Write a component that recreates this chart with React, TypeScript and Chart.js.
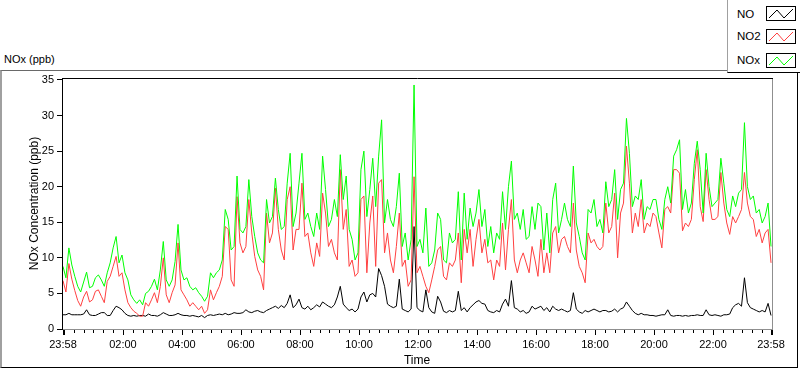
import React, { useEffect, useRef } from 'react';
import { Chart, registerables } from 'chart.js';

Chart.register(...registerables);

// Sampling step of the series (minutes from the 23:58 start)
const STEP_MINUTES = 6;

// NOx (ppb) — one value every 6 minutes, one row per hour
const NOx: number[] = [
  8.8, 7.2, 11.4, 9.0, 7.4, 6.0, 5.2, 6.6, 8.0, 5.8,
  6.0, 7.2, 7.6, 6.9, 6.0, 7.9, 9.3, 11.4, 13.0, 9.3,
  10.4, 7.9, 6.9, 4.8, 4.1, 3.6, 4.1, 3.4, 5.0, 5.3,
  6.0, 7.0, 5.5, 8.3, 12.3, 6.9, 6.0, 6.9, 9.5, 14.7,
  8.3, 6.9, 7.2, 6.0, 5.5, 5.8, 5.1, 4.6, 3.9, 4.6,
  7.9, 7.2, 7.9, 8.3, 9.7, 16.8, 15.4, 11.1, 11.6, 21.5,
  14.0, 13.5, 14.4, 21.0, 15.8, 13.0, 10.7, 9.7, 9.3, 18.2,
  14.9, 15.8, 21.2, 16.8, 14.0, 14.4, 20.5, 24.7, 14.4, 16.3,
  20.5, 24.7, 15.4, 16.3, 14.4, 13.0, 16.3, 14.0, 24.3, 19.6,
  14.4, 15.4, 18.2, 15.8, 24.5, 18.2, 21.5, 14.0, 12.6, 9.7,
  10.7, 22.4, 25.0, 15.8, 19.6, 24.0, 17.2, 24.3, 29.4, 14.9,
  18.2, 15.4, 14.4, 17.2, 21.9, 11.6, 13.5, 9.7, 12.6, 34.3,
  11.6, 12.6, 10.7, 17.0, 8.8, 9.3, 11.1, 16.3, 15.4, 9.7,
  9.3, 13.5, 12.1, 12.6, 19.3, 9.7, 19.1, 12.6, 17.0, 14.4,
  16.3, 19.6, 14.4, 16.8, 11.6, 14.4, 10.7, 13.5, 12.6, 19.3,
  14.0, 20.0, 23.6, 15.4, 16.3, 14.0, 16.8, 12.6, 13.0, 17.2,
  14.0, 17.7, 17.2, 11.1, 16.3, 10.7, 18.2, 20.5, 13.5, 15.4,
  17.7, 15.4, 14.4, 22.9, 14.9, 13.0, 10.7, 9.7, 16.8, 16.3,
  18.2, 14.4, 15.4, 13.5, 20.7, 17.2, 18.2, 22.4, 15.4, 19.6,
  20.5, 29.6, 24.7, 17.2, 18.7, 18.2, 21.0, 15.4, 17.2, 16.8,
  18.2, 18.2, 15.4, 14.0, 18.2, 20.0, 17.7, 24.3, 25.2, 26.6,
  16.8, 19.6, 16.3, 17.7, 23.3, 26.4, 22.4, 16.3, 24.7, 20.0,
  17.2, 17.7, 18.2, 24.0, 20.5, 16.8, 15.8, 18.7, 17.2, 19.1,
  19.6, 29.0, 20.0, 18.2, 18.7, 16.3, 16.8, 14.9, 15.8, 17.7, 11.6,
];

// NO2 (ppb)
const NO2: number[] = [
  6.8, 5.2, 9.2, 7.0, 5.4, 4.0, 3.2, 4.5, 5.3, 3.8,
  4.1, 5.3, 5.5, 4.6, 3.7, 6.7, 7.4, 8.8, 10.2, 7.4,
  7.9, 5.5, 3.7, 3.0, 2.5, 2.2, 1.8, 1.8, 3.7, 3.2,
  4.1, 5.1, 3.7, 6.0, 10.0, 4.8, 3.7, 5.1, 6.2, 12.1,
  5.5, 4.8, 4.1, 3.2, 3.7, 3.2, 2.7, 3.2, 2.2, 2.7,
  5.5, 4.1, 5.1, 6.0, 7.4, 14.4, 14.0, 6.9, 6.0, 18.6,
  12.1, 10.7, 11.6, 18.2, 13.5, 10.2, 8.3, 7.4, 5.5, 16.3,
  12.1, 13.5, 19.8, 14.0, 11.1, 9.7, 18.2, 20.0, 11.1, 14.0,
  14.0, 20.5, 13.0, 13.5, 10.7, 8.8, 12.1, 10.2, 19.1, 16.3,
  11.6, 12.6, 10.7, 9.7, 22.4, 14.0, 16.8, 8.8, 9.7, 7.4,
  7.9, 18.2, 18.7, 7.9, 14.9, 18.7, 8.8, 20.5, 21.0, 10.7,
  13.5, 9.7, 7.9, 11.6, 16.3, 8.8, 9.7, 6.0, 6.9, 21.4,
  7.9, 8.8, 7.4, 6.0, 5.1, 6.9, 8.8, 11.1, 11.6, 7.4,
  6.9, 9.3, 8.8, 9.7, 13.5, 6.5, 14.0, 10.7, 14.0, 8.8,
  12.6, 15.4, 10.7, 12.6, 9.3, 9.7, 6.9, 9.7, 8.8, 14.9,
  8.3, 14.0, 18.2, 9.7, 7.9, 9.7, 10.7, 9.3, 7.9, 11.6,
  9.7, 7.4, 12.6, 7.9, 10.7, 7.9, 13.5, 14.4, 10.7, 12.6,
  13.0, 11.6, 10.7, 17.7, 11.1, 8.8, 7.9, 6.5, 13.5, 12.1,
  12.6, 11.6, 11.1, 11.6, 17.7, 13.5, 14.4, 19.1, 10.0, 16.3,
  17.7, 25.7, 20.5, 13.5, 16.3, 14.4, 18.2, 13.5, 14.9, 14.4,
  16.3, 15.8, 13.5, 11.4, 16.8, 17.2, 16.3, 22.4, 22.4, 21.9,
  13.8, 14.9, 14.4, 15.4, 21.0, 25.2, 17.2, 15.1, 22.4, 18.2,
  15.4, 15.4, 15.8, 22.0, 17.7, 14.9, 13.3, 15.8, 14.9, 15.8,
  16.8, 22.0, 17.7, 15.8, 15.4, 13.0, 14.0, 12.1, 13.5, 14.0, 9.3,
];

// NO (ppb)
const NO: number[] = [
  2.0, 2.0, 2.2, 2.0, 2.0, 2.0, 2.0, 2.1, 2.7, 2.0,
  1.9, 1.9, 2.1, 2.3, 2.3, 1.9, 1.9, 2.6, 3.2, 3.0,
  2.7, 2.2, 1.9, 1.8, 1.9, 1.8, 1.9, 1.9, 1.8, 2.1,
  1.9, 1.9, 1.8, 2.0, 2.3, 2.1, 1.9, 1.9, 2.0, 2.2,
  2.0, 1.9, 1.9, 1.8, 1.9, 1.8, 1.7, 1.9, 1.6, 1.9,
  2.0, 1.9, 2.0, 2.1, 2.0, 2.2, 2.0, 2.1, 2.3, 2.2,
  2.2, 2.3, 2.7, 2.4, 2.3, 2.5, 2.6, 2.4, 2.3, 2.6,
  2.8, 3.0, 3.2, 2.9, 3.3, 3.0, 3.6, 4.8, 3.0, 3.4,
  4.2, 3.0, 2.8, 3.2, 2.7, 3.0, 3.4, 3.1, 3.8, 3.5,
  3.2, 3.0, 3.4, 4.5, 6.0, 3.5, 3.0, 2.6, 2.8, 2.4,
  2.8, 4.5, 5.2, 3.8, 4.8, 5.0, 4.5, 8.5, 7.5, 6.0,
  3.5, 3.2, 3.0, 3.2, 7.0, 2.8, 2.6, 2.4, 2.8, 14.4,
  3.0, 2.6, 2.4, 5.5, 3.0, 2.4, 2.2, 4.6, 3.8, 2.5,
  2.3, 2.6, 2.4, 2.6, 5.3, 2.6, 3.0, 2.4, 3.0, 3.4,
  3.8, 4.0, 3.6, 3.5, 2.6, 2.4, 2.3, 2.6, 2.4, 3.5,
  4.2, 3.2, 6.8, 3.0, 2.8, 2.4, 2.6, 2.2, 2.4, 3.2,
  2.8, 3.0, 3.2, 2.6, 3.0, 2.4, 3.2, 2.8, 2.6, 2.8,
  2.6, 2.4, 2.6, 5.1, 2.8, 2.4, 2.2, 2.6, 2.4, 2.6,
  2.8, 2.6, 2.4, 2.6, 2.6, 2.4, 2.5, 2.8, 2.4, 2.8,
  3.0, 3.8, 3.2, 2.6, 2.2, 2.0, 2.2, 2.0, 2.0, 1.9,
  1.9, 1.8, 1.9, 2.0, 2.0, 2.7, 1.9, 1.8, 1.9, 1.9,
  1.8, 1.9, 1.8, 1.9, 1.9, 2.0, 1.9, 1.9, 2.7, 2.0,
  1.9, 2.0, 1.9, 1.8, 2.0, 2.0, 2.1, 3.0, 3.4, 3.6,
  3.2, 7.2, 3.7, 3.0, 2.8, 2.6, 2.4, 2.6, 2.4, 3.6, 1.9,
];

// X axis: labelled ticks (minutes after the 23:58 start) and their labels
const tickMinutes: number[] = [0, 122, 242, 362, 482, 602, 722, 842, 962, 1082, 1202, 1322, 1440];
const tickLabels: string[] = ['23:58', '02:00', '04:00', '06:00', '08:00', '10:00', '12:00', '14:00', '16:00', '18:00', '20:00', '22:00', '23:58'];
const yTicks: number[] = [0, 5, 10, 15, 20, 25, 30, 35];

const seriesNames: string[] = ['NO', 'NO2', 'NOx'];
const seriesColors: string[] = ['#000000', '#ff4040', '#00ff00'];

const FONT = '"Liberation Sans", Arial, sans-serif';

const minorTickMinutes: number[] = [];
for (let m = 2; m < 1440; m += 20) {
  if (!tickMinutes.includes(m)) minorTickMinutes.push(m);
}

const framePlugin = {
  id: 'frame',
  afterDraw(chart: any) {
    const { ctx, chartArea: a, scales } = chart;
    const xs = scales.x;
    ctx.save();
    ctx.lineWidth = 1;
    // right + bottom (grey)
    ctx.strokeStyle = '#8f8f8f';
    ctx.beginPath();
    ctx.moveTo(a.right + 0.5, a.top);
    ctx.lineTo(a.right + 0.5, a.bottom + 1);
    ctx.moveTo(a.left, a.bottom + 0.5);
    ctx.lineTo(a.right + 1, a.bottom + 0.5);
    ctx.stroke();
    // top + left (black)
    ctx.strokeStyle = '#000';
    ctx.beginPath();
    ctx.moveTo(a.left, a.top + 0.5);
    ctx.lineTo(a.right + 1, a.top + 0.5);
    ctx.moveTo(a.left + 0.5, a.top);
    ctx.lineTo(a.left + 0.5, a.bottom + 1);
    ctx.stroke();
    // minor x ticks
    ctx.beginPath();
    for (const m of minorTickMinutes) {
      const p = Math.round(xs.getPixelForValue(m)) + 0.5;
      ctx.moveTo(p, a.bottom + 1);
      ctx.lineTo(p, a.bottom + 4);
    }
    ctx.stroke();
    // major x ticks
    for (let k = 0; k < tickMinutes.length; k++) {
      const m = tickMinutes[k];
      const edge = k === 0 || k === tickMinutes.length - 1;
      ctx.lineWidth = edge ? 2 : 1;
      const p = edge ? Math.round(xs.getPixelForValue(m)) + 1 : Math.round(xs.getPixelForValue(m)) + 0.5;
      ctx.beginPath();
      ctx.moveTo(p, a.bottom + 1);
      ctx.lineTo(p, a.bottom + 6);
      ctx.stroke();
    }
    ctx.restore();
  },
};

export default function App() {
  const ref = useRef<HTMLCanvasElement>(null);

  useEffect(() => {
    const canvas = ref.current;
    if (!canvas) return;
    const series = [NO, NO2, NOx];
    const datasets = series.map((vals, i) => ({
      label: seriesNames[i],
      data: vals.map((v, k) => ({ x: k * STEP_MINUTES, y: v })),
      borderColor: seriesColors[i],
      backgroundColor: seriesColors[i],
      borderWidth: 1,
      pointRadius: 0,
      tension: 0,
      fill: false,
      order: 3 - i,
    }));
    const chart = new Chart(canvas, {
      type: 'line',
      data: { datasets },
      options: {
        animation: false,
        responsive: false,
        maintainAspectRatio: false,
        events: [],
        layout: { padding: { top: 78, right: 28, left: 0, bottom: 0 } },
        plugins: {
          legend: { display: false },
          tooltip: { enabled: false },
          title: { display: false },
        },
        scales: {
          x: {
            type: 'linear',
            min: -2,
            max: 1442,
            afterBuildTicks: (s: any) => {
              s.ticks = tickMinutes.map((v) => ({ value: v }));
            },
            afterFit: (s: any) => {
              s.height = 40;
            },
            ticks: {
              autoSkip: false,
              maxRotation: 0,
              minRotation: 0,
              padding: 9,
              color: '#000',
              font: { family: FONT, size: 11 },
              callback: (v: any) => {
                const idx = tickMinutes.indexOf(Number(v));
                return idx >= 0 ? tickLabels[idx] : '';
              },
            },
            grid: { display: true, drawOnChartArea: false, drawTicks: false },
            border: { display: false },
            title: {
              display: true,
              text: 'Time',
              color: '#000',
              font: { family: FONT, size: 12 },
              padding: { top: 0, bottom: 1 },
            },
          },
          y: {
            type: 'linear',
            min: 0,
            max: 35.28,
            afterBuildTicks: (s: any) => {
              s.ticks = yTicks.map((v) => ({ value: v }));
            },
            afterFit: (s: any) => {
              s.width = 62;
            },
            ticks: {
              padding: 3,
              color: '#000',
              font: { family: FONT, size: 11 },
            },
            grid: {
              display: true,
              drawOnChartArea: false,
              drawTicks: true,
              tickLength: 5,
              tickColor: '#000',
            },
            border: { display: false },
            title: {
              display: true,
              text: 'NOx Concentration (ppb)',
              color: '#000',
              font: { family: FONT, size: 12 },
              padding: { top: 27.8, bottom: 0 },
            },
          },
        },
      } as any,
      plugins: [framePlugin],
    });
    return () => chart.destroy();
  }, []);

  const legendRows = [
    { name: seriesNames[0], color: seriesColors[0], cy: 14, boxTop: 6 },
    { name: seriesNames[1], color: seriesColors[1], cy: 36, boxTop: 29 },
    { name: seriesNames[2], color: seriesColors[2], cy: 60, boxTop: 53 },
  ];

  return (
    <div
      style={{
        position: 'fixed',
        left: 0,
        top: 0,
        width: 800,
        height: 369,
        background: '#fff',
        overflow: 'hidden',
        fontFamily: FONT,
      }}
    >
      <div
        style={{
          position: 'absolute',
          left: 0,
          top: 70,
          width: 798,
          height: 298,
          boxSizing: 'border-box',
          borderLeft: '2px solid #a0a0a0',
          borderTop: '1px solid #696969',
          borderRight: '1px solid #000',
          borderBottom: '1px solid #000',
        }}
      />
      <div
        style={{
          position: 'absolute',
          left: 4,
          top: 52,
          fontSize: 11,
          lineHeight: '14px',
          color: '#000',
          whiteSpace: 'nowrap',
        }}
      >
        NOx (ppb)
      </div>
      <canvas
        ref={ref}
        width={800}
        height={369}
        style={{ position: 'absolute', left: 0, top: 0, width: 800, height: 369 }}
      />
      <div
        style={{
          position: 'absolute',
          left: 727,
          top: 0,
          width: 73,
          height: 73,
          boxSizing: 'border-box',
          borderLeft: '1px solid #a0a0a0',
          borderBottom: '1px solid #000',
          background: '#fff',
        }}
      >
        {legendRows.map((r) => (
          <React.Fragment key={r.name}>
            <div
              style={{
                position: 'absolute',
                left: 9,
                top: r.cy - 7,
                fontSize: 11.5,
                lineHeight: '14px',
                color: '#000',
                whiteSpace: 'nowrap',
              }}
            >
              {r.name}
            </div>
            <svg
              width={30}
              height={15}
              style={{ position: 'absolute', left: 38, top: r.boxTop }}
            >
              <rect x={0.5} y={0.5} width={29} height={14} fill="#fff" stroke="#000" strokeWidth={1} />
              <polyline
                points="3,12 11,4 18,12 27,3"
                fill="none"
                stroke={r.color}
                strokeWidth={1}
              />
            </svg>
          </React.Fragment>
        ))}
      </div>
    </div>
  );
}
